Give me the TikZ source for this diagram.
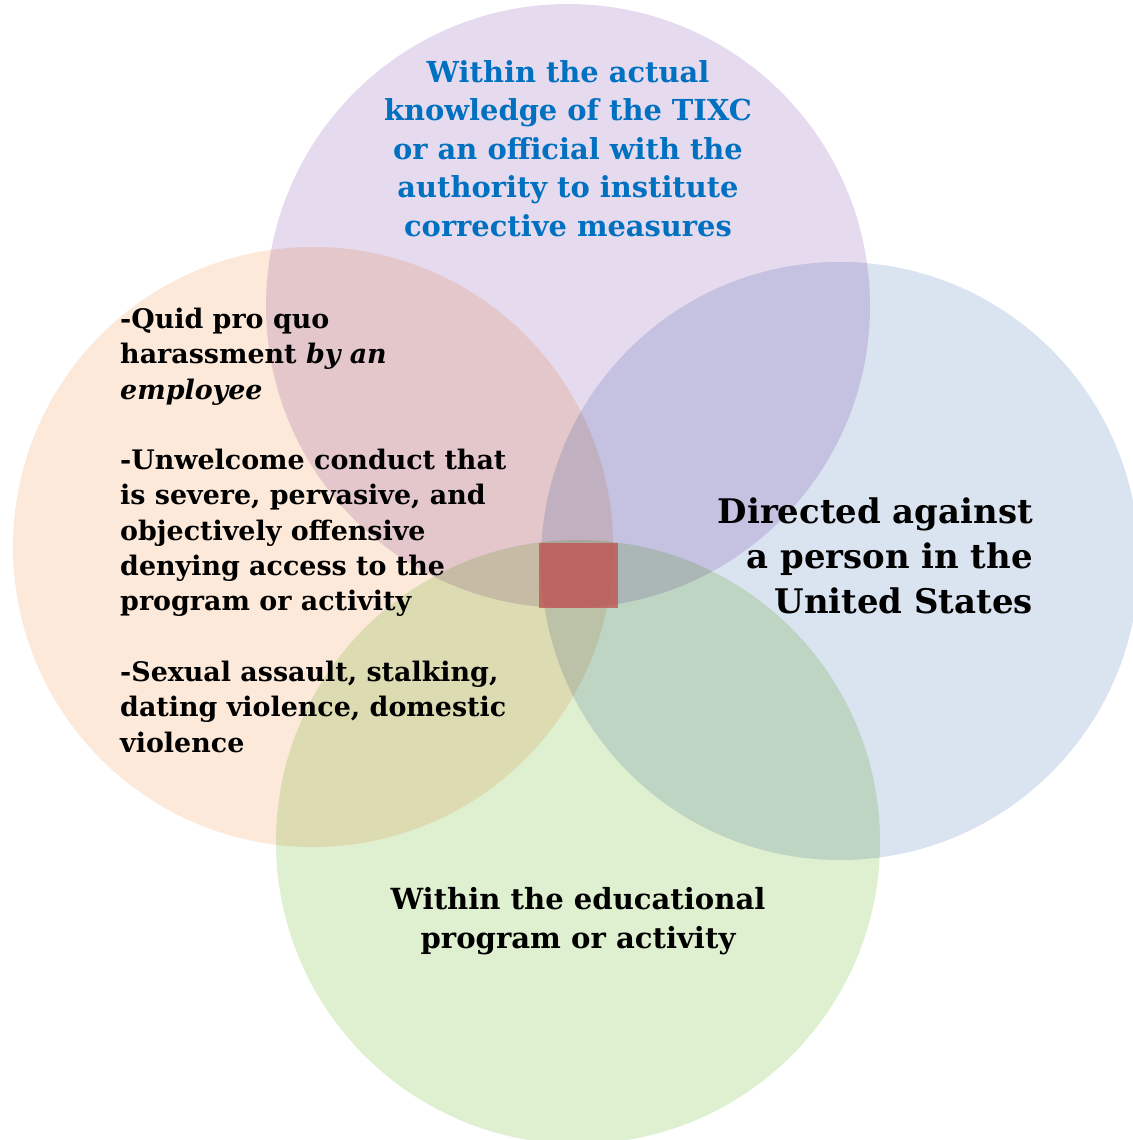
\documentclass[tikz,border=0pt]{standalone}
\usepackage{fontspec}
\setmainfont{DejaVu Serif}
\definecolor{cpurple}{RGB}{230,218,238}
\definecolor{corange}{RGB}{252,233,218}
\definecolor{cblue}{RGB}{218,227,240}
\definecolor{cgreen}{RGB}{223,240,208}
\definecolor{cred}{RGB}{192,80,77}
\definecolor{tixblue}{RGB}{0,112,192}
\tikzset{
  venn/.style={draw=none},
  toptext/.style={font=\fontsize{28.9}{38.5}\selectfont\bfseries, text=tixblue, align=center, inner sep=0pt},
  lefttext/.style={font=\fontsize{26.9}{35.3}\selectfont\bfseries, align=left, inner sep=0pt},
  righttext/.style={font=\fontsize{33.9}{45}\selectfont\bfseries, align=right, inner sep=0pt},
  bottext/.style={font=\fontsize{29.1}{39}\selectfont\bfseries, align=center, inner sep=0pt}
}
\begin{document}
\begin{tikzpicture}[x=1pt,y=-1pt]
\useasboundingbox (0,0) rectangle (1132,1140);
\begin{scope}[blend group=multiply]
  \fill[venn, corange] (313,547) circle[radius=300pt];
  \fill[venn, cblue] (840,561) circle[radius=299pt];
  \fill[venn, cgreen] (578,842) circle[radius=302pt];
  \fill[venn, cpurple] (568,306) circle[radius=302pt];
\end{scope}
\fill[cred, opacity=0.75] (539,543) rectangle (618,608);
\node[toptext, anchor=base] (top) at (568,236) {Within the actual\\knowledge of the TIXC\\or an official with the\\authority to institute\\corrective measures};
\node[lefttext, anchor=base west] (left) at (120,752) {-Quid pro quo\\harassment \textit{by an}\\\textit{employee}\\[35.3pt]-Unwelcome conduct that\\is severe, pervasive, and\\objectively offensive\\denying access to the\\program or activity\\[35.3pt]-Sexual assault, stalking,\\dating violence, domestic\\violence};
\node[righttext, anchor=base east] (right) at (1033,613) {Directed against\\a person in the\\United States};
\node[bottext, anchor=base] (bottom) at (578,948) {Within the educational\\program or activity};
\end{tikzpicture}
\end{document}
